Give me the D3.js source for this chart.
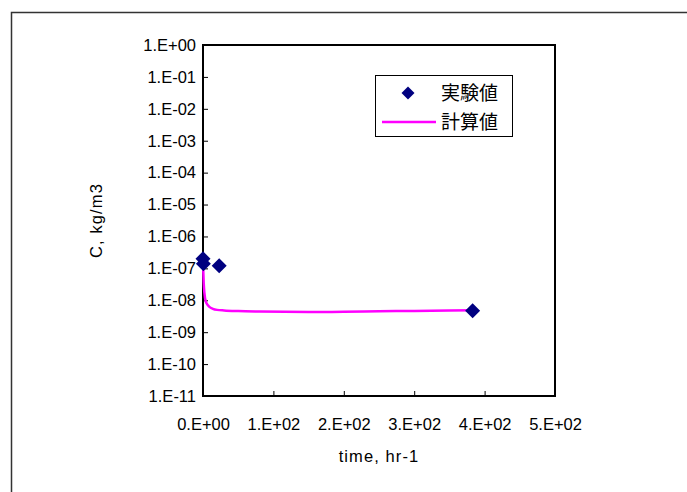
<!DOCTYPE html>
<html>
<head>
<meta charset="utf-8">
<script src="https://cdn.jsdelivr.net/npm/d3@7"></script>
<style>
  html, body { margin: 0; padding: 0; background: #fff; }
  svg { display: block; font-family: "Liberation Sans", Arial, sans-serif; }
</style>
</head>
<body>
<svg id="chart" width="687" height="492"></svg>
<script>
// Measured concentrations (実験値)
const obsTime = [0, 0.5, 23, 383];
const obsConc = [2.0e-7, 1.4e-7, 1.2e-7, 4.7e-9];

// Model curve (計算値)
const calcTime = [0, 1, 2, 4, 7, 10, 14, 20, 30, 50, 80, 150, 200, 250, 300, 350, 383];
const calcConc = [1.5e-7, 3.5e-8, 1.7e-8, 9e-9, 7e-9, 6e-9, 5.4e-9, 5.0e-9, 4.8e-9, 4.6e-9,
                  4.45e-9, 4.3e-9, 4.35e-9, 4.5e-9, 4.65e-9, 4.8e-9, 4.9e-9];

const xTicks = [0, 100, 200, 300, 400, 500];
const xTickLabels = ["0.E+00", "1.E+02", "2.E+02", "3.E+02", "4.E+02", "5.E+02"];
const yTicks = [1, 1e-1, 1e-2, 1e-3, 1e-4, 1e-5, 1e-6, 1e-7, 1e-8, 1e-9, 1e-10, 1e-11];
const yTickLabels = ["1.E+00", "1.E-01", "1.E-02", "1.E-03", "1.E-04", "1.E-05",
                     "1.E-06", "1.E-07", "1.E-08", "1.E-09", "1.E-10", "1.E-11"];

const legendNames = ["実験値", "計算値"];
const xTitle = "time, hr-1";
const yTitle = "C, kg/m3";

const labelFont = "'Liberation Sans Narrow', 'Liberation Sans', Arial, sans-serif";

const svg = d3.select("#chart");
const plot = { left: 203, top: 45, right: 555, bottom: 396 };

const x = d3.scaleLinear().domain([0, 500]).range([plot.left, plot.right]);
const y = d3.scaleLog().domain([1e-11, 1]).range([plot.bottom, plot.top]);

// outer frame
svg.append("rect")
  .attr("x", 11.5).attr("y", 12.5)
  .attr("width", 700).attr("height", 500)
  .attr("fill", "none").attr("stroke", "#333").attr("stroke-width", 1.5);

// axes with inward ticks
const xAxis = d3.axisBottom(x).tickValues(xTicks)
  .tickFormat((d, i) => xTickLabels[i]).tickSizeInner(-5).tickSizeOuter(0).tickPadding(22);
const yAxis = d3.axisLeft(y).tickValues(yTicks)
  .tickFormat((d, i) => yTickLabels[i]).tickSizeInner(-5).tickSizeOuter(0).tickPadding(7);

const gx = svg.append("g").attr("transform", `translate(0,${plot.bottom})`).call(xAxis);
const gy = svg.append("g").attr("transform", `translate(${plot.left},0)`).call(yAxis);
[gx, gy].forEach(g => {
  g.select(".domain").remove();
  g.selectAll(".tick line").attr("stroke", "#000").attr("stroke-width", 1);
  g.selectAll(".tick text").attr("fill", "#000")
    .style("font-size", "16.5px").style("font-family", labelFont);
});
gx.selectAll(".tick text").attr("dy", "0.71em");

// plot frame
svg.append("rect")
  .attr("x", plot.left).attr("y", plot.top)
  .attr("width", plot.right - plot.left).attr("height", plot.bottom - plot.top)
  .attr("fill", "none").attr("stroke", "#000").attr("stroke-width", 2);

// axis titles
svg.append("text")
  .attr("x", (plot.left + plot.right) / 2).attr("y", 462)
  .attr("text-anchor", "middle")
  .style("font-size", "16.5px").style("font-family", labelFont).style("letter-spacing", "1.1px")
  .text(xTitle);
svg.append("text")
  .attr("transform", `translate(102,${(plot.top + plot.bottom) / 2}) rotate(-90)`)
  .attr("text-anchor", "middle")
  .style("font-size", "16.5px").style("font-family", labelFont).style("letter-spacing", "1.1px")
  .text(yTitle);

// model curve
const calcData = calcTime.map((t, i) => [t, calcConc[i]]);
const line = d3.line().x(d => x(d[0])).y(d => y(d[1])).curve(d3.curveMonotoneX);
svg.append("path")
  .datum(calcData)
  .attr("d", line)
  .attr("fill", "none").attr("stroke", "#ff00ff").attr("stroke-width", 2.5);

// measured points as diamonds
const diamond = h => `M0,${-h}L${h},0L0,${h}L${-h},0Z`;
svg.append("g").selectAll("path")
  .data(obsTime.map((t, i) => [t, obsConc[i]]))
  .join("path")
  .attr("transform", d => `translate(${x(d[0])},${y(d[1])})`)
  .attr("d", diamond(7.5))
  .attr("fill", "#000080");

// legend
const lg = svg.append("g");
lg.append("rect")
  .attr("x", 375.5).attr("y", 75.5).attr("width", 137).attr("height", 61)
  .attr("fill", "#fff").attr("stroke", "#000").attr("stroke-width", 1);
lg.append("path")
  .attr("transform", "translate(408,93)")
  .attr("d", diamond(6.5)).attr("fill", "#000080");
lg.append("line")
  .attr("x1", 382).attr("x2", 436).attr("y1", 122).attr("y2", 122)
  .attr("stroke", "#ff00ff").attr("stroke-width", 2.5);
legendNames.forEach((name, i) => {
  lg.append("text")
    .attr("x", 441).attr("y", 93 + i * 29)
    .attr("dy", "0.36em")
    .style("font-family", "'Noto Sans CJK JP', sans-serif")
    .style("font-size", "19px")
    .text(name);
});
</script>
</body>
</html>
